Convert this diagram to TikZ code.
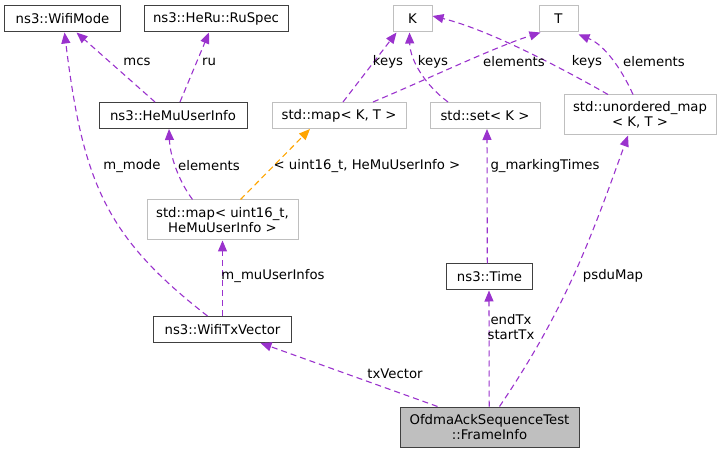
\documentclass[tikz,border=0pt]{standalone}
\usepackage{fontspec}
\setmainfont{DejaVu Sans}
\usepackage{tikz}
\usetikzlibrary{positioning}
\usetikzlibrary{arrows.meta}
\definecolor{relcol}{HTML}{9A32CD}
\definecolor{instcol}{HTML}{FFA500}
\definecolor{tmplcol}{HTML}{BFBFBF}
\definecolor{clscol}{HTML}{404040}
\tikzset{>={Triangle[length=11bp,width=9bp]}}
\tikzset{
  cls/.style={draw=clscol, line width=1bp, inner sep=0pt, minimum height=26bp, align=center,
    font=\fontsize{13.3}{15.5}\selectfont},
  tmpl/.style={cls, draw=tmplcol},
  rel/.style={relcol, ->, line width=1.1bp, dash pattern=on 6bp off 4bp},
  inst/.style={rel, instcol},
  lbl/.style={font=\fontsize{13.3}{15.5}\selectfont, inner sep=0pt, align=center}
}

\begin{document}
\begin{tikzpicture}[x=1bp,y=-1bp]
\useasboundingbox (0,0) rectangle (721,453);

% Classes
\node[cls, minimum width=115bp] (wifimode) at (62.5,19) {ns3::WifiMode};
\node[cls, minimum width=144bp] (ruspec) at (216,19) {ns3::HeRu::RuSpec};
\node[tmpl, minimum width=39bp] (kk) at (412.5,19) {K};
\node[tmpl, minimum width=39bp] (tt) at (558.5,19) {T};
\node[cls, minimum width=148bp] (hemu) at (173,115.5) {ns3::HeMuUserInfo};
\node[tmpl, minimum width=134bp] (mapkt) at (339,115.5) {std::map< K, T >};
\node[tmpl, minimum width=110bp] (setk) at (485,115.5) {std::set< K >};
\node[tmpl, minimum width=152bp, minimum height=40bp] (umap) at (640,115) {std::unordered\_map\\< K, T >};
\node[tmpl, minimum width=151bp, minimum height=40bp] (mapu16) at (222.5,220) {std::map< uint16\_t,\\HeMuUserInfo >};
\node[cls, minimum width=86bp] (time) at (489.5,277) {ns3::Time};
\node[cls, minimum width=138bp] (txvec) at (222.5,329.5) {ns3::WifiTxVector};
\node[cls, fill=tmplcol, minimum width=179bp, minimum height=40bp] (frame) at (489.5,427) {OfdmaAckSequenceTest\\::FrameInfo};

% Links
\draw[rel] ([xshift=-18bp]hemu.north) -- ([xshift=14bp]wifimode.south);
\draw[rel] ([xshift=7bp]hemu.north) -- ([xshift=-7bp]ruspec.south);
\draw[rel] ([xshift=-15bp]txvec.north) .. controls (106,237) and (83,183) .. ([xshift=2bp]wifimode.south);
\draw[rel] ([xshift=-30bp]mapu16.north) .. controls (178,180) and (170,155) .. ([xshift=-4bp]hemu.south);
\draw[inst] ([xshift=18bp]mapu16.north) -- ([xshift=-29bp]mapkt.south);
\draw[rel] (txvec.north) -- (mapu16.south);
\draw[rel] ([xshift=-2.2bp]time.north) -- ([xshift=2bp]setk.south);
\draw[rel] ([xshift=4bp]mapkt.north) -- ([xshift=-16bp]kk.south);
\draw[rel] ([xshift=34bp]mapkt.north) .. controls (430,78) and (495,47) .. ([xshift=-18bp]tt.south);
\draw[rel] ([xshift=-37bp]setk.north) .. controls (425,85) and (410,60) .. ([xshift=-3bp]kk.south);
\draw[rel] ([xshift=-32bp]umap.north) .. controls (565,70) and (490,30) .. ([yshift=3bp]kk.east);
\draw[rel] ([xshift=-7bp]umap.north) .. controls (622,70) and (605,45) .. ([xshift=20bp,yshift=-2bp]tt.south);
\draw[rel] ([xshift=-0.3bp]frame.north) -- ([xshift=-0.5bp]time.south);
\draw[rel] ([xshift=10bp]frame.north) .. controls (567,307) and (592,235) .. ([xshift=-12bp]umap.south);
\draw[rel] ([xshift=-52bp]frame.north) -- ([xshift=38bp]txvec.south);

% Labels
\node[lbl] (lmcs) at (137,62) {mcs};
\node[lbl] (lru) at (209,62) {ru};
\node[lbl] (lkeysa) at (388,62) {keys};
\node[lbl] (lkeysb) at (433,62) {keys};
\node[lbl] (lelema) at (514,62) {elements};
\node[lbl] (lkeysc) at (587,62) {keys};
\node[lbl] (lelemb) at (654,62) {elements};
\node[lbl] (lmode) at (132,166) {m\_mode};
\node[lbl] (lelemc) at (209,166) {elements};
\node[lbl] (linst) at (367,166) {< uint16\_t, HeMuUserInfo >};
\node[lbl] (lmark) at (545,166) {g\_markingTimes};
\node[lbl] (lmu) at (273,276) {m\_muUserInfos};
\node[lbl] (lpsdu) at (613,276) {psduMap};
\node[lbl] (ltx) at (511,327) {endTx\\startTx};
\node[lbl] (ltxv) at (395,374) {txVector};

\end{tikzpicture}
\end{document}
